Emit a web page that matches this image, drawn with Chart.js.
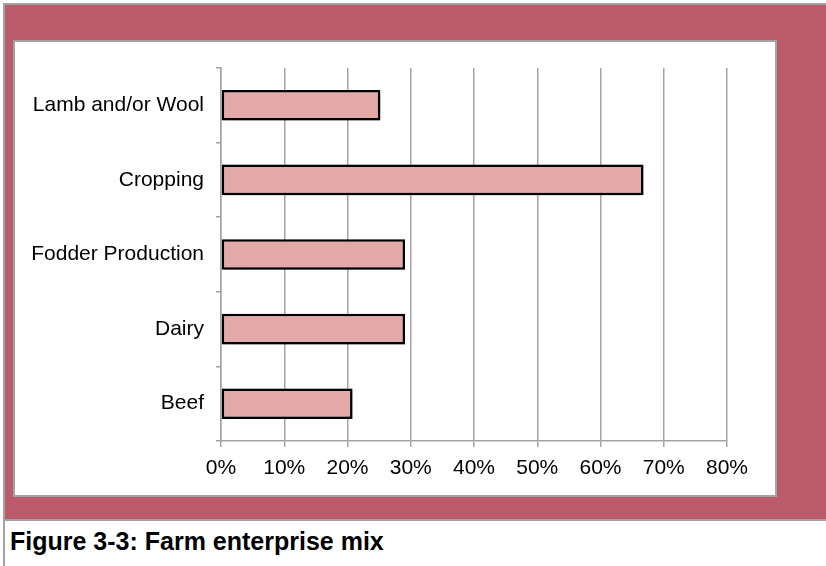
<!DOCTYPE html>
<html>
<head>
<meta charset="utf-8">
<script src="https://cdn.jsdelivr.net/npm/chart.js@4/dist/chart.umd.min.js"></script>
<style>
	html, body { margin: 0; padding: 0; background: #fff; }
	#page { position: relative; width: 826px; height: 566px; overflow: hidden; font-family: "Liberation Sans", Arial, sans-serif; }
	#frame { position: absolute; left: 3px; top: 3px; width: 830px; height: 518px; background: #bc5b6c; border-top: 2px solid #a3a3a3; border-left: 2px solid #a3a3a3; border-bottom: 2px solid #a3a3a3; box-sizing: border-box; }
	#leftline { position: absolute; left: 3px; top: 3px; width: 2px; height: 563px; background: #a3a3a3; }
	#panel { position: absolute; left: 13px; top: 40px; width: 764px; height: 457px; background: #fff; border: 2px solid #a3a3a3; box-sizing: border-box; }
	#caption { position: absolute; left: 10px; top: 527px; font-weight: bold; font-size: 25px; color: #000; white-space: nowrap; }
	#myChart { position: absolute; left: 0; top: 0; }
</style>
</head>
<body>
<div id="page">
	<div id="frame"></div>
	<div id="leftline"></div>
	<div id="panel"></div>
	<div id="caption">Figure 3-3: Farm enterprise mix</div>
	<canvas id="myChart" width="826" height="566"></canvas>
</div>
<script>
	// категории сверху вниз
	var categories = ['Lamb and/or Wool', 'Cropping', 'Fodder Production', 'Dairy', 'Beef'];
	var shares = [25.2, 66.8, 29.1, 29.1, 20.8]; // %
	var xTicks = [0, 10, 20, 30, 40, 50, 60, 70, 80];

	var gridGrey = '#a3a3a3';

	// тень под столбиками
	var barShadow = {
		id: 'barShadow',
		beforeDatasetsDraw: function(chart) {
			var ctx = chart.ctx;
			ctx.save();
			ctx.shadowColor = 'rgba(0,0,0,0.35)';
			ctx.shadowBlur = 4;
			ctx.shadowOffsetX = 2;
			ctx.shadowOffsetY = 2;
		},
		afterDatasetsDraw: function(chart) {
			chart.ctx.restore();
		}
	};

	var config = {
		type: 'bar',
		data: {
			labels: categories,
			datasets: [{
				data: shares,
				backgroundColor: '#e2a9a8',
				borderColor: '#000',
				borderWidth: 2.5,
				borderSkipped: false,
				categoryPercentage: 1,
				barPercentage: 0.41
			}]
		},
		plugins: [barShadow],
		options: {
			indexAxis: 'y',
			responsive: false,
			animation: false,
			layout: { padding: { left: 0, right: 99, top: 68, bottom: 0 } },
			plugins: {
				legend: { display: false },
				tooltip: { enabled: false }
			},
			scales: {
				x: {
					min: 0,
					max: 80,
					afterBuildTicks: function(scale) {
						scale.ticks = xTicks.map(function(v) { return { value: v }; });
					},
					afterFit: function(scale) { scale.height = 125; },
					grid: { color: gridGrey, lineWidth: 1.5, tickLength: 6, drawTicks: true },
					border: { color: gridGrey, width: 1.5 },
					ticks: {
						color: '#000',
						padding: 9,
						maxRotation: 0,
						font: { family: 'Liberation Sans', size: 21 },
						callback: function(v) { return v + '%'; }
					}
				},
				y: {
					afterFit: function(scale) { scale.width = 221; },
					grid: { drawOnChartArea: false, color: gridGrey, lineWidth: 1.5, tickLength: 5 },
					border: { color: gridGrey, width: 1.5 },
					ticks: {
						color: '#000',
						padding: 12,
						font: { family: 'Liberation Sans', size: 21 }
					}
				}
			}
		}
	};

	var ctx = document.getElementById('myChart').getContext('2d');
	window.myBar = new Chart(ctx, config);
</script>
</body>
</html>
